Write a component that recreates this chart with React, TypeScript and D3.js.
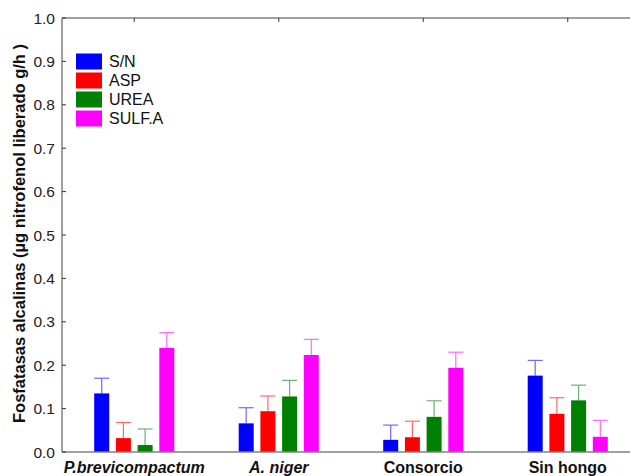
import React from "react";
import * as d3 from "d3";

const categories = ["P.brevicompactum", "A. niger", "Consorcio", "Sin hongo"];
const seriesNames = ["S/N", "ASP", "UREA", "SULF.A"];
const seriesColors = ["#0000ff", "#ff0000", "#008000", "#ff00ff"];
const errColors = ["#6a6aff", "#ff6a6a", "#70b070", "#ff6aff"];
const snValues = [0.135, 0.066, 0.028, 0.176];
const snErr = [0.035, 0.036, 0.034, 0.035];
const aspValues = [0.032, 0.094, 0.034, 0.088];
const aspErr = [0.036, 0.035, 0.037, 0.037];
const ureaValues = [0.016, 0.128, 0.081, 0.119];
const ureaErr = [0.037, 0.037, 0.037, 0.035];
const sulfValues = [0.24, 0.2235, 0.194, 0.035];
const sulfErr = [0.035, 0.036, 0.036, 0.038];
const yTicks = [0, 0.1, 0.2, 0.3, 0.4, 0.5, 0.6, 0.7, 0.8, 0.9, 1.0];

const values = [snValues, aspValues, ureaValues, sulfValues];
const errs = [snErr, aspErr, ureaErr, sulfErr];

export default function App() {
  const W = 630, H = 476;
  const left = 62, right = 640, top = 18, bottom = 452;
  const x = d3.scaleBand().domain(categories).range([left, right]);
  const y = d3.scaleLinear().domain([0, 1]).range([bottom, top]);
  const barW = 15;
  const step = 21.7;
  const font = "Arial, 'Liberation Sans', sans-serif";
  const axisColor = "#808080";

  return (
    <svg width={W} height={H} style={{ position: "absolute", left: 0, top: 0, background: "#fff" }}>
      <rect x={0} y={0} width={W} height={H} fill="#fff" />
      {/* bars */}
      {categories.map((c, ci) => {
        const cx = (x(c) as number) + x.bandwidth() / 2;
        return seriesNames.map((s, si) => {
          const v = values[si][ci];
          const e = errs[si][ci];
          const bx = cx + (si - 1.5) * step - barW / 2;
          const mid = bx + barW / 2;
          return (
            <g key={c + s}>
              <line x1={mid} x2={mid} y1={y(v)} y2={y(v + e)} stroke={errColors[si]} strokeWidth={1.2} />
              <line x1={bx} x2={bx + barW} y1={y(v + e)} y2={y(v + e)} stroke={errColors[si]} strokeWidth={1.2} />
              <rect x={bx} y={y(v)} width={barW} height={y(0) - y(v)} fill={seriesColors[si]} />
            </g>
          );
        });
      })}
      {/* frame */}
      <line x1={left} x2={left} y1={top} y2={bottom} stroke={axisColor} strokeWidth={1.5} />
      <line x1={left} x2={W} y1={top} y2={top} stroke={axisColor} strokeWidth={1.5} />
      <line x1={left} x2={W} y1={bottom} y2={bottom} stroke={axisColor} strokeWidth={1.5} />
      {/* y ticks */}
      {yTicks.map((t) => (
        <g key={t}>
          <line x1={left} x2={left + 4} y1={y(t)} y2={y(t)} stroke="#333" strokeWidth={1} />
          <text x={left - 7} y={y(t)} dy="0.36em" textAnchor="end" fontFamily={font} fontSize={15.5} fill="#222">
            {t.toFixed(1)}
          </text>
        </g>
      ))}
      {/* top ticks at categories */}
      {categories.map((c) => {
        const cx = (x(c) as number) + x.bandwidth() / 2;
        return <line key={"tt" + c} x1={cx} x2={cx} y1={top} y2={top + 4} stroke="#333" strokeWidth={1} />;
      })}
      {/* x labels */}
      {categories.map((c, i) => {
        const cx = (x(c) as number) + x.bandwidth() / 2;
        return (
          <text key={"xl" + c} x={cx} y={473} textAnchor="middle" fontFamily={font} fontSize={16}
            fontWeight="bold" fontStyle={i < 2 ? "italic" : "normal"} fill="#111">
            {c}
          </text>
        );
      })}
      {/* y title */}
      <text transform={`translate(25, ${(42 + 425) / 2}) rotate(-90)`} textAnchor="middle" fontFamily={font}
        fontSize={16.5} fontWeight="bold" fill="#111">
        Fosfatasas alcalinas (µg nitrofenol liberado g/h )
      </text>
      {/* legend */}
      {seriesNames.map((s, i) => (
        <g key={"lg" + s}>
          <rect x={76} y={53.5 + i * 19} width={26} height={16} fill={seriesColors[i]} />
          <text x={109} y={61.5 + i * 19} dy="0.36em" fontFamily={font} fontSize={16} fill="#111">{s}</text>
        </g>
      ))}
    </svg>
  );
}
